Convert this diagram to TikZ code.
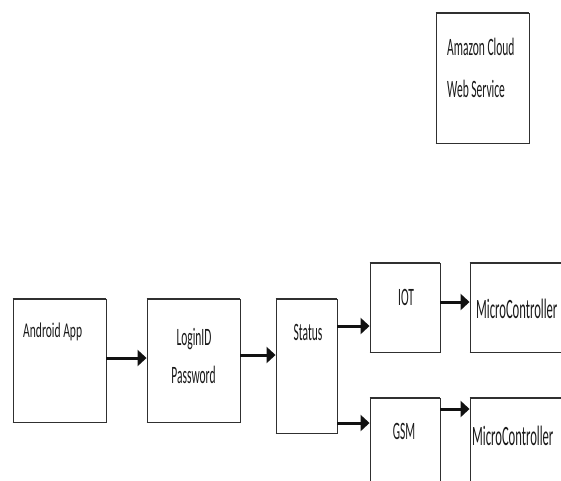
\documentclass[tikz,border=0pt]{standalone}
\usepackage{graphicx}
\usepackage{fontspec}
\setmainfont{Carlito}
\usetikzlibrary{arrows.meta}
\definecolor{boxc}{HTML}{303030}
\definecolor{arrc}{HTML}{111111}
\definecolor{txtc}{HTML}{1A1A1A}
\newcommand\sqtxt[3]{\scalebox{#1}[1]{\fontsize{#2}{#2}\selectfont #3}}
\begin{document}
\begin{tikzpicture}[x=1pt,y=-1pt,
  box/.style={draw=boxc, line width=0.9pt, inner sep=0pt},
  hl/.style={draw=boxc, line width=1.8pt},
  arr/.style={line width=3pt, draw=arrc, -{Triangle[length=9pt,width=16pt]}},
  lbl/.style={inner sep=0pt, text=txtc}]
\useasboundingbox (0,0) rectangle (561,480);
\fill[white] (0,0) rectangle (561,480);
\clip (0,0) rectangle (561,480);
% boxes
\node[box, minimum width=93pt, minimum height=130pt] (amazon) at (482.5,78) {};
\node[box, minimum width=93pt, minimum height=123pt] (android) at (59.5,360.5) {};
\node[box, minimum width=93pt, minimum height=123pt] (login) at (193.5,360.5) {};
\node[box, minimum width=61pt, minimum height=134pt] (status) at (306.5,366) {};
\node[box, minimum width=70pt, minimum height=89pt] (iot) at (405,307.5) {};
\node[box, minimum width=130pt, minimum height=89pt] (mc1) at (535,307.5) {};
\node[box, minimum width=70pt, minimum height=122pt] (gsm) at (405,459) {};
\node[box, minimum width=130pt, minimum height=122pt] (mc2) at (535,459) {};
\foreach \n in {amazon,android,login,status,iot,mc1,gsm,mc2}
  \draw[hl] (\n.north west) -- (\n.north east) (\n.south west) -- (\n.south east);
% labels
\node[lbl, anchor=base west] (t1) at (447,55) {\sqtxt{0.46}{25}{Amazon Cloud}};
\node[lbl, anchor=base west] (t2) at (447,97) {\sqtxt{0.46}{25}{Web Service}};
\node[lbl, anchor=base west] (t3) at (23,337) {\sqtxt{0.55}{21}{Android App}};
\node[lbl, anchor=base] (t4) at (194,345) {\sqtxt{0.46}{25}{LoginID}};
\node[lbl, anchor=base] (t5) at (193.5,383) {\sqtxt{0.46}{25}{Password}};
\node[lbl, anchor=base] (t6) at (308,340) {\sqtxt{0.46}{25}{Status}};
\node[lbl, anchor=base] (t7) at (406,305) {\sqtxt{0.46}{25}{IOT}};
\node[lbl, anchor=base] (t8) at (404,439) {\sqtxt{0.46}{25}{GSM}};
\node[lbl, anchor=base west] (t9) at (476,318) {\sqtxt{0.45}{28}{MicroController}};
\node[lbl, anchor=base west] (t10) at (472,445) {\sqtxt{0.45}{28}{MicroController}};
% arrows
\draw[arr] ([yshift=2.5pt]android.east) -- ([yshift=2.5pt]android.east -| login.west);
\draw[arr] ([yshift=5.5pt]login.east) -- ([yshift=5.5pt]login.east -| status.west);
\draw[arr] ([yshift=40pt]status.east) -- ([yshift=40pt]status.east -| iot.west);
\draw[arr] ([yshift=-57pt]status.east) -- ([yshift=-57pt]status.east -| gsm.west);
\draw[arr] ([yshift=5.5pt]iot.east) -- ([yshift=5.5pt]iot.east -| mc1.west);
\draw[arr] ([yshift=50pt]gsm.east) -- ([yshift=50pt]gsm.east -| mc2.west);
\end{tikzpicture}
\end{document}
